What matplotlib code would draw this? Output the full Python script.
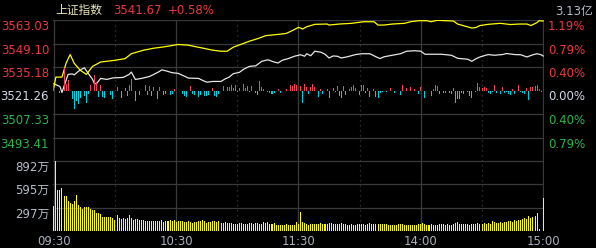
import numpy as np
import matplotlib.pyplot as plt

plt.rcParams['font.family'] = ['DejaVu Sans', 'Noto Sans CJK SC']

# 分时数据, x = minuten sinds 09:30 (0..240, middagpauze weggelaten)
base = 3521.26
price_ticks = [3563.03, 3549.10, 3535.18, 3521.26, 3507.33, 3493.41, 3479.49]
price_labels = ['3563.03', '3549.10', '3535.18', '3521.26', '3507.33', '3493.41']
pct_labels = ['1.19%', '0.79%', '0.40%', '0.00%', '0.40%', '0.79%']
vol_ticks = [892, 595, 297]
vol_labels = ['892万', '595万', '297万']
time_ticks = [0, 60, 120, 180, 240]
time_labels = ['09:30', '10:30', '11:30', '14:00', '15:00']
dotted_ticks = [30, 90, 150, 210]

yellow_min = [0, 1, 4, 6, 8, 10, 13, 16, 19, 23, 30, 35, 38, 44, 49, 54, 61, 66, 70, 74,
              78, 82, 85, 88, 92, 96, 100, 104, 110, 114, 117, 120, 121, 122, 124, 128,
              134, 135, 140, 146, 152, 157, 159, 162, 166, 172, 175, 179, 183, 185, 188,
              192, 196, 198, 201, 205, 207, 209, 213, 219, 224, 228, 232, 234, 237, 238, 240]
yellow_val = [3523.05, 3529.20, 3529.20, 3537.37, 3542.56, 3537.37, 3533.19, 3530.80,
              3535.58, 3538.15, 3539.16, 3540.17, 3543.04, 3545.13, 3546.32, 3547.10,
              3548.53, 3548.11, 3547.10, 3546.14, 3545.13, 3544.53, 3544.53, 3546.92,
              3548.71, 3550.50, 3551.99, 3553.78, 3554.50, 3555.09, 3556.76, 3558.67,
              3558.26, 3557.66, 3559.03, 3560.46, 3560.64, 3560.04, 3560.64, 3561.06,
              3562.01, 3562.01, 3560.04, 3560.04, 3560.64, 3561.06, 3562.01, 3562.61,
              3562.61, 3562.01, 3562.85, 3562.61, 3562.43, 3560.64, 3559.63, 3558.26,
              3558.55, 3559.75, 3560.46, 3561.06, 3560.34, 3560.64, 3560.64, 3559.75,
              3561.53, 3562.61, 3562.43]

white_min = [0, 3, 4, 6, 7, 9, 10, 12, 14, 15, 17, 19, 20, 21, 23, 26, 29, 34, 37, 38, 40,
             43, 47, 51, 53, 55, 58, 61, 64, 66, 71, 73, 75, 78, 82, 84, 86, 88, 91, 93,
             96, 99, 102, 105, 108, 110, 112, 115, 118, 120, 121, 123, 124, 126, 128, 131,
             133, 135, 137, 139, 141, 144, 148, 151, 155, 158, 160, 162, 166, 170, 173,
             177, 180, 182, 190, 195, 198, 203, 205, 207, 209, 213, 216, 220, 222, 226,
             229, 232, 235, 237, 239, 240]
white_val = [3525.26, 3523.65, 3520.07, 3527.23, 3530.81, 3531.10, 3530.51, 3532.60,
             3534.09, 3534.69, 3531.22, 3527.82, 3525.14, 3525.44, 3528.42, 3527.82,
             3528.72, 3529.02, 3530.81, 3532.18, 3527.82, 3528.42, 3529.61, 3532.00,
             3533.49, 3532.90, 3531.82, 3531.40, 3529.79, 3528.60, 3528.42, 3527.23,
             3526.21, 3526.63, 3526.63, 3528.12, 3529.20, 3531.22, 3532.00, 3533.79,
             3535.58, 3535.88, 3538.56, 3539.46, 3538.15, 3537.55, 3539.16, 3540.17,
             3541.55, 3542.14, 3542.44, 3541.55, 3543.04, 3541.85, 3544.53, 3543.94,
             3542.74, 3540.53, 3541.73, 3541.55, 3540.53, 3541.25, 3542.56, 3543.04,
             3543.04, 3541.25, 3540.17, 3541.25, 3542.14, 3543.04, 3544.53, 3544.83,
             3544.53, 3542.74, 3542.74, 3542.14, 3540.35, 3539.76, 3538.56, 3540.06,
             3541.13, 3542.56, 3542.14, 3542.56, 3543.16, 3542.56, 3542.44, 3541.13,
             3542.44, 3543.04, 3542.44, 3541.67]

# rode/cyaan staafjes rond de nullijn (koopkracht), willekeurige eenheid
flow_min = [0, 3, 5, 6, 7, 9, 10, 11, 12, 13, 15, 16, 17, 18, 20, 21, 22, 23, 24, 25, 28,
            29, 31, 33, 35, 36, 37, 38, 40, 42, 45, 46, 47, 48, 49, 51, 52, 54, 55, 57, 58,
            59, 63, 64, 65, 67, 68, 69, 71, 72, 74, 75, 76, 78, 79, 80, 81, 83, 85, 86, 87,
            88, 89, 90, 91, 93, 94, 95, 96, 97, 99, 100, 101, 102, 103, 105, 106, 107, 108,
            110, 111, 114, 116, 117, 118, 119,
            121, 122, 123, 124, 125, 126, 127, 128, 130, 131, 132, 134, 135, 137, 138, 139,
            140, 141, 142, 143, 145, 146, 147, 148, 150, 151, 152, 153, 154, 155, 157, 158,
            159, 160, 161, 163, 165, 167, 170, 171, 173, 175, 177, 179, 180,
            182, 185, 186, 187, 188, 189, 191, 192, 194, 195, 196, 197, 198, 199, 200, 201,
            203, 204, 205, 207, 208, 209, 210, 211, 212, 213, 214, 215, 216, 217, 219, 220,
            221, 222, 223, 224, 225, 226, 228, 229, 230, 231, 232, 233, 234, 235, 236, 237,
            238, 239]
flow_val = [3, -2, 22, 6, 10, -8, -18, -10, -13, -7, -5, -12, -3, 5, 15, 8, -6, 5, -6, -7, -4,
            -8, 3, -7, 2, -5, 5, 11, -10, -4, 5, -4, 4, -5, 3, -8, 3, -4, -3, -4, -3,
            1, -3, -5, -6, 4, -3, -4, -6, -4, -5, -5, -4, 2, -5, -6, -3, 4, 3, 3, 5,
            2, 5, -1, 2, 6, 2, 4, -1, 4, -2, -4, 9, 3, 1, -1, -2, -3, -2,
            1, -2, 1, 5, 4, 6, 5,
            4, -12, 6, 3, -3, 3, 6, 3, -6, 1, -3, 1, -7, 2, -1, 4,
            -5, -7, 4, -4, 1, 3, 5, 2, -4, 5, 5, -2, 2, -6, 1, -6,
            -7, -2, -1, -1, 2, -2, -4, 5, 2, 3, 1, -3, 3,
            -7, -5, 1, 5, 4, -3, -2, -2, -2, -3, 2, -12, -8, -8, -2, -3,
            -1, -5, -7, -1, 7, 3, 2, 3, 2, -2, -3, -1, 5, -2, -3, 3,
            -2, -1, -3, -4, 1, -3, 5, -1, -2, -3, 2, -9, 3, 3, 4, 5,
            1, -1]

# volume per minuut, in 万
volume = [323, 892, 517, 517, 543, 440, 440, 388, 358, 345, 388, 453, 336, 310, 284, 310,
          302, 302, 284, 272, 272, 233, 233, 216, 181, 181, 181, 181, 181, 168, 142, 207,
          168, 155, 168, 155, 168, 207, 168, 142, 155, 155, 142, 142, 142, 129, 129, 129,
          129, 129, 129, 129, 129, 142, 116, 129, 129, 142, 129, 142, 116, 129, 129, 129,
          116, 116, 129, 116, 103, 116, 116, 129, 129, 142, 129, 103, 116, 116, 129, 129,
          116, 129, 103, 103, 116, 103, 103, 103, 91, 91, 91, 103, 103, 91, 91, 91,
          103, 103, 91, 103, 103, 91, 91, 116, 103, 116, 91, 91, 103, 78, 78, 78,
          78, 78, 91, 78, 78, 78, 78, 116, 91,
          246, 116, 103, 91, 78, 91, 91, 91, 91, 91, 103, 91, 91, 91, 103, 103,
          91, 91, 91, 91, 103, 91, 91, 78, 78, 91, 78, 78, 91, 91, 91, 91,
          78, 91, 103, 91, 91, 91, 91, 91, 91, 91, 91, 78, 78, 78, 78, 78,
          91, 91, 91, 78, 78, 78, 78, 78, 78, 78, 91, 91, 103, 91, 78, 78,
          91, 78, 78, 78, 91, 91, 91, 78, 91, 78, 78, 91, 103, 116, 91, 91,
          91, 91, 91, 78, 91, 91, 91, 103, 91, 91, 103, 91, 103, 91, 129, 116,
          103, 103, 116, 103, 116, 116, 129, 129, 116, 142, 129, 142, 142, 155, 168, 155,
          194, 168, 181, 194, 233, 26, 0, 418]

RED = '#e8383c'
GREEN = '#2cb34a'
GRID = '#3a3a3a'
LABEL = '#b4bcc8'

W, H = 596, 248
def rect(x0, y0, x1, y1):
    return [x0 / W, 1 - y1 / H, (x1 - x0) / W, (y1 - y0) / H]

fig = plt.figure(figsize=(5.96, 2.48), dpi=100, facecolor='black')
ax = fig.add_axes(rect(53, 20, 544, 161))
axv = fig.add_axes(rect(53, 161, 544, 231))

for a in (ax, axv):
    a.set_facecolor('black')
    a.set_xlim(-0.4, 240.4)
    a.set_xticks([])
    a.set_yticks([])
    for s in a.spines.values():
        s.set_visible(False)
    for t in time_ticks:
        a.axvline(t, color=GRID, lw=0.9, zorder=0)
    for t in dotted_ticks:
        a.axvline(t, color=GRID, lw=0.9, ls=(0, (1, 3)), zorder=0)

ax.set_ylim(price_ticks[-1], price_ticks[0])
for p in price_ticks:
    if p != base:  # geen lijn op de nullijn
        ax.axhline(p, color=GRID, lw=0.9, zorder=0)
axv.set_ylim(0, vol_ticks[0])
for v in vol_ticks:
    axv.axhline(v, color=GRID, lw=0.9, zorder=0)

# staafjes rond nullijn
axb = ax.twinx()
axb.set_ylim(-70, 70)
axb.axis('off')
flow_min = np.array(flow_min)
flow_val = np.array(flow_val)
cols = np.where(flow_val > 0, '#f04858', '#00d0e0')
axb.bar(flow_min, flow_val, width=0.5, color=cols, lw=0, antialiased=False, zorder=1)

ax.plot(white_min, white_val, color='#e6e6e6', lw=0.9, zorder=3)
ax.plot(yellow_min, yellow_val, color='#ffff00', lw=0.9, zorder=3)

axv.bar(np.arange(len(volume)), volume, width=0.5, color='#ffff00', lw=0,
        antialiased=False, zorder=2)

# labels links en rechts
ytr = ax.get_yaxis_transform()
for i, lab in enumerate(price_labels):
    p = price_ticks[i]
    c = RED if p > base else ('#d0d8e4' if p == base else GREEN)
    ax.text(-0.008, p, lab, transform=ytr, ha='right', va='top', color=c, fontsize=8.5)
    c2 = RED if i < 3 else ('#d0d8e4' if i == 3 else GREEN)
    ax.text(1.008, p, pct_labels[i], transform=ytr, ha='left', va='top', color=c2, fontsize=8.5)

vtr = axv.get_yaxis_transform()
for v, lab in zip(vol_ticks, vol_labels):
    axv.text(-0.008, v, lab, transform=vtr, ha='right', va='top', color=LABEL, fontsize=8.5)

xtr = axv.get_xaxis_transform()
for t, lab in zip(time_ticks, time_labels):
    axv.text(t, -0.06, lab, transform=xtr, ha='center', va='top', color='#a8b0bc', fontsize=8.5)

fig.text(55 / W, 1 - 10 / H, '上证指数', color='#e8e4b8', fontsize=8.5, va='center', ha='left')
fig.text(113 / W, 1 - 10 / H, '3541.67', color=RED, fontsize=8.5, va='center', ha='left')
fig.text(168 / W, 1 - 10 / H, '+0.58%', color=RED, fontsize=8.5, va='center', ha='left')
fig.text(593 / W, 1 - 12 / H, '3.13亿', color=LABEL, fontsize=8.5, va='center', ha='right')

plt.savefig('out.png', dpi=100, facecolor='black')
